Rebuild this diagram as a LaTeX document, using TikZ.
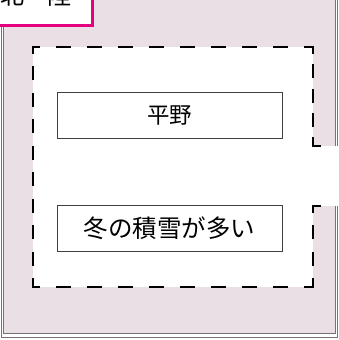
\documentclass[tikz,border=0pt]{standalone}
\usepackage{fontspec}
\newfontfamily\cjk{Noto Sans CJK JP}
\definecolor{framepink}{RGB}{235,223,230}
\definecolor{labelmag}{RGB}{228,0,127}
\begin{document}
\begin{tikzpicture}[x=1pt,y=-1pt,
  dashline/.style={line width=2pt, line cap=rect, black},
  textbox/.style={draw=black!75, line width=0.8pt, fill=white, minimum width=225pt, minimum height=46pt, inner sep=0pt, font=\cjk},
  labelbox/.style={draw=labelmag, line width=3pt, fill=white}]
\useasboundingbox (0,0) rectangle (338,340);
\clip (0,0) rectangle (338,340);
% outer frame
\fill[framepink] (3,-20) rectangle (335,333);
\draw[black!55, line width=0.8pt] (3,-20) rectangle (335,333);
\draw[black!55, line width=0.8pt] (1,-20) -- (1,337) -- (337,337) -- (337,-20);
% white region with opening on the right
\fill[white] (33,47) rectangle (313,287);
\fill[white] (313,146) rectangle (340,206);
% dashed outline
\draw[dashline, dash pattern=on 13pt off 18pt, dash phase=7pt] (33,47) -- (313,47);
\draw[dashline, dash pattern=on 13pt off 18pt, dash phase=7pt] (33,287) -- (313,287);
\draw[dashline, dash pattern=on 12pt off 14.44pt, dash phase=6pt] (33,47) -- (33,287);
\draw[dashline, dash pattern=on 12pt off 12.25pt, dash phase=6pt] (313,47) -- (313,146);
\draw[dashline, dash pattern=on 12pt off 14.33pt, dash phase=6pt] (313,206) -- (313,287);
\draw[dashline] (313,146) -- (320,146);
\draw[dashline] (313,206) -- (320,206);
% label
\draw[labelbox] (-10,-40) rectangle (92,25);
\node[font=\cjk\fontsize{24}{28}\selectfont, inner sep=0pt] (label) at (36,-5) {北　陸};
% boxes
\node[textbox] (plain) at (169.5,115) {\fontsize{22.5}{26}\selectfont 平野};
\node[textbox] (snow) at (169.5,228.5) {\fontsize{24.5}{28}\selectfont 冬の積雪が多い};
\end{tikzpicture}
\end{document}
